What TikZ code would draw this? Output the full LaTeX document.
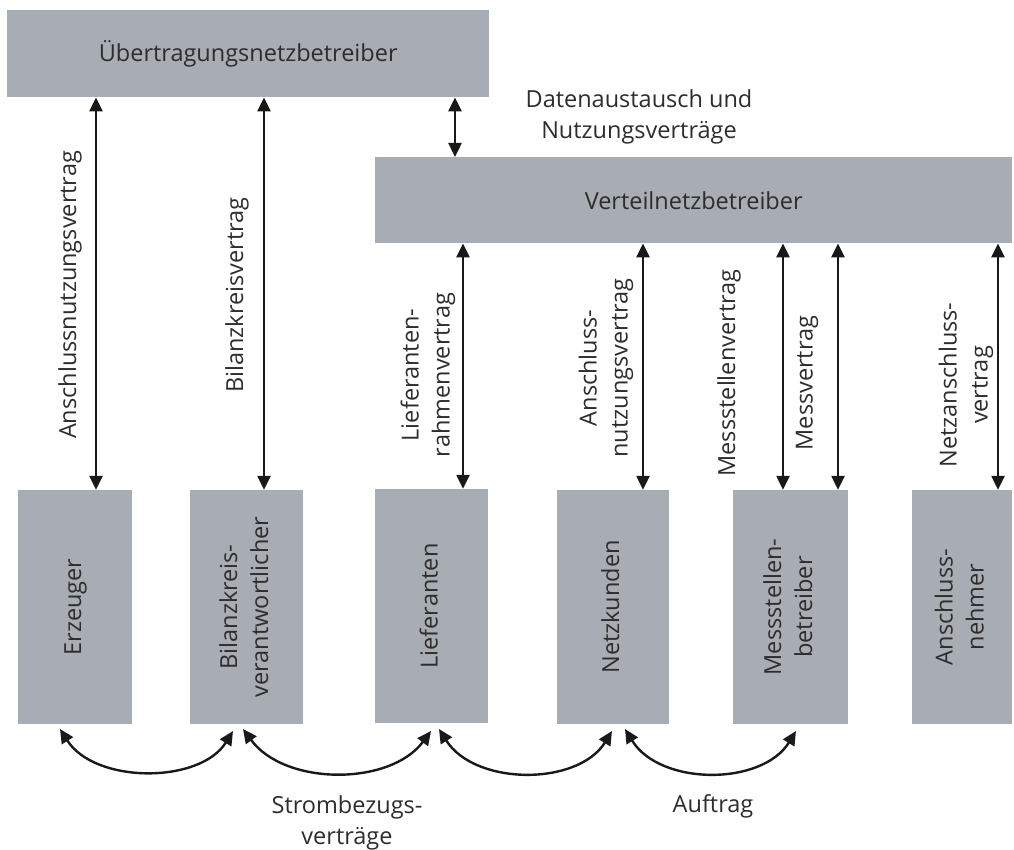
\documentclass[tikz,border=0pt]{standalone}
\usepackage{fontspec}
\usepackage{graphicx}
\setmainfont{Open Sans}
\usetikzlibrary{arrows.meta,calc}
\definecolor{boxgray}{RGB}{167,173,178}
\definecolor{ink}{RGB}{45,45,45}
\newcommand{\lblfont}{\fontsize{23.5}{31}\selectfont}
\newcommand{\vtext}[1]{\rotatebox{90}{\begin{tabular}{@{}c@{}}#1\end{tabular}}}

\begin{document}
\begin{tikzpicture}[x=1pt,y=-1pt,
  box/.style={fill=boxgray, draw=none, inner sep=0pt, text=ink, font=\lblfont},
  lbl/.style={text=ink, font=\lblfont, align=center, inner sep=0pt},
  link/.style={line width=2.4pt, draw=black!90, {Triangle[length=14pt,width=13pt]}-{Triangle[length=14pt,width=13pt]}},
]
\useasboundingbox (0,0) rectangle (1014,850);

% operators
\node[box, anchor=north west, minimum width=482pt, minimum height=87pt] (ueb) at (7,10) {Übertragungsnetzbetreiber};
\node[box, anchor=north west, minimum width=637pt, minimum height=86pt] (vnb) at (375,157) {Verteilnetzbetreiber};

% market participants
\node[box, minimum width=114pt, minimum height=234pt] (erz)  at (75,607)    {\vtext{Erzeuger}};
\node[box, minimum width=113pt, minimum height=234pt] (bkv)  at (246.5,607) {\vtext{Bilanzkreis-\\verantwortlicher}};
\node[box, minimum width=113pt, minimum height=234pt] (lief) at (431.5,606) {\vtext{Lieferanten}};
\node[box, minimum width=112pt, minimum height=234pt] (nk)   at (613,607)   {\vtext{Netzkunden}};
\node[box, minimum width=115pt, minimum height=234pt] (msb)  at (790.5,607) {\vtext{Messstellen-\\betreiber}};
\node[box, minimum width=100pt, minimum height=234pt] (an)   at (962,607)   {\vtext{Anschluss-\\nehmer}};

% x positions of the vertical contract lines
\coordinate (xa) at (96,0);
\coordinate (xb) at (264,0);
\coordinate (xc) at (455,0);
\coordinate (xd) at (463,0);
\coordinate (xe) at (643,0);
\coordinate (xf) at (783,0);
\coordinate (xg) at (838,0);
\coordinate (xh) at (998,0);

\draw[link] (ueb.south -| xa) -- (erz.north -| xa);
\draw[link] (ueb.south -| xb) -- (bkv.north -| xb);
\draw[link] (ueb.south -| xc) -- (vnb.north -| xc);
\draw[link] (vnb.south -| xd) -- (lief.north -| xd);
\draw[link] (vnb.south -| xe) -- (nk.north -| xe);
\draw[link] (vnb.south -| xf) -- (msb.north -| xf);
\draw[link] (vnb.south -| xg) -- (msb.north -| xg);
\draw[link] (vnb.south -| xh) -- (an.north -| xh);

% contract labels
\node[lbl] (l1) at (639,117) {Datenaustausch und\\Nutzungsverträge};
\node[lbl, rotate=90] (l2) at (70,295)  {Anschlussnutzungsvertrag};
\node[lbl, rotate=90] (l3) at (237,295) {Bilanzkreisvertrag};
\node[lbl, rotate=90] (l4) at (428,375) {Lieferanten-\\rahmenvertrag};
\node[lbl, rotate=90] (l5) at (606,368) {Anschluss-\\nutzungsvertrag};
\node[lbl, rotate=90] (l6) at (729,373) {Messstellenvertrag};
\node[lbl, rotate=90] (l7) at (807,383) {Messvertrag};
\node[lbl, rotate=90] (l8) at (966,385) {Netzanschluss-\\vertrag};

% curved links below the boxes
\coordinate (c1a) at (60,729);  \coordinate (c1b) at (233,731);
\coordinate (c2a) at (243,729); \coordinate (c2b) at (431,731);
\coordinate (c3a) at (439,729); \coordinate (c3b) at (612,731);
\coordinate (c4a) at (625,729); \coordinate (c4b) at (796,731);
\draw[link] (c1a) .. controls (95,784) and (200,784) .. (c1b);
\draw[link] (c2a) .. controls (285,786) and (390,786) .. (c2b);
\draw[link] (c3a) .. controls (475,786) and (578,786) .. (c3b);
\draw[link] (c4a) .. controls (660,786) and (762,786) .. (c4b);

\node[lbl] (l9) at (347,823) {Strombezugs-\\verträge};
\node[lbl] (l10) at (713,806) {Auftrag};
\end{tikzpicture}
\end{document}
